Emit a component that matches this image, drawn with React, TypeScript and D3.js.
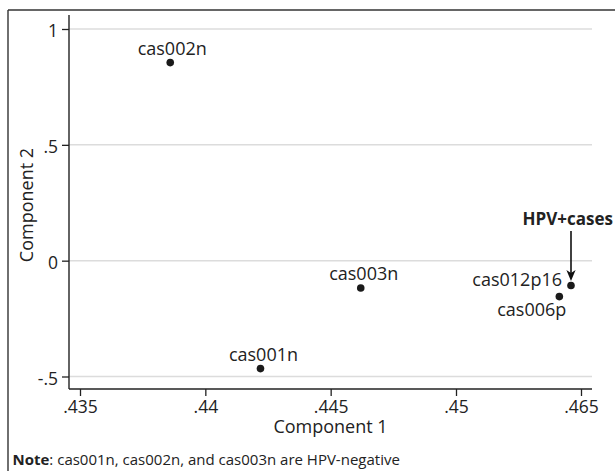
import React, { useEffect, useRef } from 'react';
import * as d3 from 'd3';

// sample scores on the first two components
const samples = ['cas002n', 'cas001n', 'cas003n', 'cas012p16', 'cas006p'];
const comp1 = [0.4386, 0.4422, 0.4462, 0.4638, 0.4624];
const comp2 = [0.855, -0.466, -0.118, -0.107, -0.155];

// axis ticks (the x axis is broken after .45)
const xTicks = [0.435, 0.44, 0.445, 0.45, 0.465];
const yTicks = [-0.5, 0, 0.5, 1];

const xTitle = 'Component 1';
const yTitle = 'Component 2';
const calloutText = 'HPV+cases';
const calloutSample = 'cas012p16';
const noteBold = 'Note';
const noteRest = ': cas001n, cas002n, and cas003n are HPV-negative';

// where each marker label sits relative to its dot
const labelPlacement: Record<string, { dx: number; dy: number; anchor: string }> = {
  cas002n: { dx: 2, dy: -8, anchor: 'middle' },
  cas001n: { dx: 3, dy: -7.5, anchor: 'middle' },
  cas003n: { dx: 3, dy: -8, anchor: 'middle' },
  cas012p16: { dx: -9, dy: 0.5, anchor: 'end' },
  cas006p: { dx: 7, dy: 19, anchor: 'end' },
};

const fmt = (d: d3.NumberValue) => String(d).replace('0.', '.');

const App: React.FC = () => {
  const svgRef = useRef<SVGSVGElement | null>(null);
  const width = 615;
  const height = 471;

  useEffect(() => {
    if (!svgRef.current) return;
    const svg = d3.select(svgRef.current);
    svg.selectAll('*').remove();

    const plot = { left: 69, right: 592, top: 15, bottom: 389 };
    const font = "'Open Sans', sans-serif";
    const ink = '#222';

    const x = d3.scaleLinear().domain([0.435, 0.45, 0.465]).range([80, 456, 581]);
    const y = d3.scaleLinear().domain([-0.5, 1]).range([376.5, 29]);

    // outer frame (top + left only)
    svg.append('line')
      .attr('x1', 8).attr('x2', width).attr('y1', 10).attr('y2', 10)
      .attr('stroke', '#333').attr('stroke-width', 1.4);
    svg.append('line')
      .attr('x1', 8).attr('x2', 8).attr('y1', 10).attr('y2', height)
      .attr('stroke', '#333').attr('stroke-width', 1.4);

    // gridlines
    svg.append('g')
      .selectAll('line')
      .data(yTicks)
      .join('line')
      .attr('x1', plot.left).attr('x2', plot.right)
      .attr('y1', (d) => y(d)).attr('y2', (d) => y(d))
      .attr('stroke', '#dcdcdc').attr('stroke-width', 1.5);

    // y axis
    const gy = svg.append('g')
      .attr('transform', `translate(${plot.left},0)`)
      .call(d3.axisLeft(y).tickValues(yTicks).tickFormat(fmt).tickSize(7).tickPadding(4).tickSizeOuter(0));
    gy.select('.domain').remove();
    gy.selectAll('line').attr('stroke', ink).attr('stroke-width', 1.3);
    gy.selectAll('text').attr('dy', '0.45em')
      .style('font-family', font).style('font-size', '17.5px').style('fill', ink);

    // x axis
    const gx = svg.append('g')
      .attr('transform', `translate(0,${plot.bottom})`)
      .call(d3.axisBottom(x).tickValues(xTicks).tickFormat(fmt).tickSize(7).tickPadding(5).tickSizeOuter(0));
    gx.select('.domain').remove();
    gx.selectAll('line').attr('stroke', ink).attr('stroke-width', 1.3);
    gx.selectAll('text')
      .style('font-family', font).style('font-size', '17.5px').style('fill', ink);

    // axis lines
    svg.append('line')
      .attr('x1', plot.left).attr('x2', plot.left).attr('y1', plot.top).attr('y2', plot.bottom)
      .attr('stroke', ink).attr('stroke-width', 1.4);
    svg.append('line')
      .attr('x1', plot.left).attr('x2', plot.right).attr('y1', plot.bottom).attr('y2', plot.bottom)
      .attr('stroke', ink).attr('stroke-width', 1.4);

    // axis titles
    svg.append('text')
      .attr('x', (plot.left + plot.right) / 2).attr('y', 432.5)
      .attr('text-anchor', 'middle')
      .style('font-family', font).style('font-size', '18px').style('fill', ink)
      .text(xTitle);
    svg.append('text')
      .attr('transform', `translate(33,205) rotate(-90)`)
      .attr('text-anchor', 'middle')
      .style('font-family', font).style('font-size', '18px').style('fill', ink)
      .text(yTitle);

    const pts = samples.map((s, i) => ({ name: s, cx: x(comp1[i]), cy: y(comp2[i]) }));

    // markers
    svg.append('g')
      .selectAll('circle')
      .data(pts)
      .join('circle')
      .attr('cx', (d) => d.cx).attr('cy', (d) => d.cy)
      .attr('r', 3.8).attr('fill', '#1a1a1a');

    // marker labels
    svg.append('g')
      .selectAll('text')
      .data(pts)
      .join('text')
      .attr('x', (d) => d.cx + labelPlacement[d.name].dx)
      .attr('y', (d) => d.cy + labelPlacement[d.name].dy)
      .attr('text-anchor', (d) => labelPlacement[d.name].anchor)
      .style('font-family', font).style('font-size', '18px').style('fill', ink)
      .text((d) => d.name);

    // callout arrow
    const target = pts.find((p) => p.name === calloutSample)!;
    const tipY = target.cy - 4.5;
    svg.append('line')
      .attr('x1', target.cx).attr('x2', target.cx)
      .attr('y1', tipY - 50).attr('y2', tipY - 6)
      .attr('stroke', '#111').attr('stroke-width', 1.6);
    svg.append('path')
      .attr('d', `M${target.cx},${tipY} L${target.cx - 4.6},${tipY - 11} L${target.cx},${tipY - 8} L${target.cx + 4.6},${tipY - 11} Z`)
      .attr('fill', '#111');
    svg.append('text')
      .attr('x', 613).attr('y', tipY - 56)
      .attr('text-anchor', 'end')
      .style('font-family', font).style('font-size', '17px').style('font-weight', 'bold').style('fill', ink)
      .text(calloutText);

    // note
    const note = svg.append('text')
      .attr('x', 12.5).attr('y', 465)
      .style('font-family', font).style('font-size', '15px').style('fill', ink);
    note.append('tspan').style('font-weight', 'bold').text(noteBold);
    note.append('tspan').text(noteRest);
  }, []);

  return (
    <svg
      ref={svgRef}
      width={width}
      height={height}
      style={{ position: 'absolute', left: 0, top: 0, display: 'block', background: '#fff' }}
    ></svg>
  );
};

export default App;
